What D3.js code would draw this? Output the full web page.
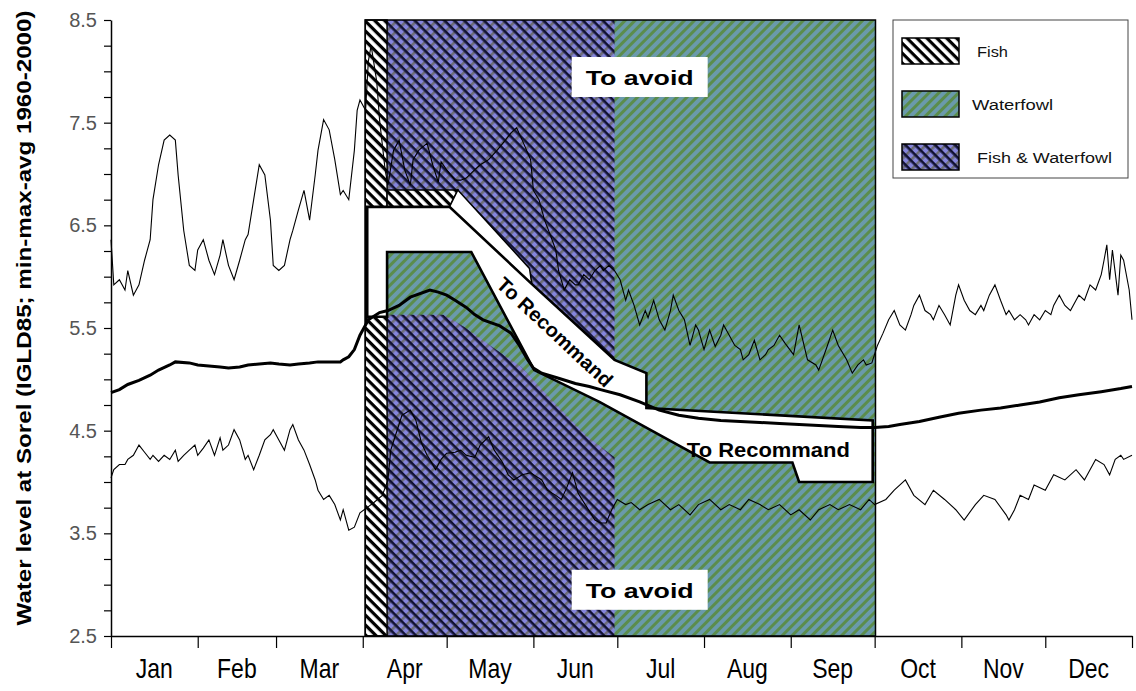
<!DOCTYPE html>
<html><head><meta charset="utf-8">
<script src="https://cdn.jsdelivr.net/npm/d3@7"></script>
<style>body{margin:0;background:#fff}svg{display:block}text{font-family:"Liberation Sans",Arial,sans-serif}</style>
</head><body><svg id="c" width="1136" height="691"></svg>
<script>
// ---------- data ----------
const months = ["Jan","Feb","Mar","Apr","May","Jun","Jul","Aug","Sep","Oct","Nov","Dec"];
const monthStarts = [0,31,59,90,120,151,181,212,243,273,304,334,365];
const yTickValues = [2.5,2.75,3,3.25,3.5,3.75,4,4.25,4.5,4.75,5,5.25,5.5,5.75,6,6.25,6.5,6.75,7,7.25,7.5,7.75,8,8.25,8.5];
const yTickLabels = [2.5,3.5,4.5,5.5,6.5,7.5,8.5];

// [day of year, level]
const maxLevel = [[0,6.36],[1,5.92],[3,5.97],[5,5.87],[6,6.06],[8,5.82],[10,5.92],[12,6.16],[14,6.36],[15,6.75],[17,7.09],[19,7.33],[21,7.38],[23,7.33],[24,6.99],[26,6.45],[28,6.11],[30,6.06],[31,6.26],[33,6.36],[35,6.16],[37,6.02],[39,6.21],[40,6.36],[42,6.11],[44,5.97],[46,6.16],[48,6.36],[49,6.41],[51,6.75],[53,7.09],[55,6.99],[57,6.55],[58,6.11],[60,6.06],[62,6.11],[64,6.36],[65,6.45],[67,6.65],[69,6.84],[71,6.55],[73,6.99],[74,7.23],[76,7.53],[78,7.43],[80,7.14],[82,6.80],[83,6.84],[85,6.75],[87,7.23],[88,7.62],[89,7.72],[91,7.62],[92,8.10],[93,8.25],[95,7.90],[96,7.53],[98,7.04],[99,6.89],[101,7.23],[103,7.33],[105,7.04],[107,6.89],[108,7.14],[110,7.23],[113,7.30],[115,7.09],[117,6.92],[118,7.12],[120,7.04],[123,6.94],[125,6.94],[127,6.96],[130,7.04],[132,7.09],[135,7.14],[138,7.23],[141,7.33],[143,7.40],[145,7.45],[147,7.33],[150,7.14],[151,6.84],[153,6.75],[155,6.55],[157,6.41],[159,6.26],[160,6.06],[162,5.87],[164,5.97],[166,5.92],[167,5.92],[169,6.02],[171,5.97],[173,6.06],[175,6.11],[176,6.06],[178,6.11],[180,6.06],[182,5.97],[184,5.77],[185,5.87],[187,5.72],[189,5.53],[191,5.67],[192,5.60],[194,5.77],[196,5.58],[198,5.48],[200,5.67],[201,5.82],[203,5.67],[205,5.58],[207,5.33],[209,5.53],[210,5.48],[212,5.29],[214,5.48],[216,5.32],[218,5.43],[219,5.53],[221,5.43],[223,5.33],[225,5.29],[226,5.19],[228,5.24],[230,5.38],[232,5.19],[234,5.24],[235,5.29],[237,5.33],[239,5.43],[241,5.35],[244,5.24],[246,5.53],[249,5.19],[252,5.14],[253,5.09],[256,5.32],[258,5.48],[260,5.33],[263,5.19],[265,5.06],[267,5.14],[269,5.19],[270,5.14],[272,5.16],[274,5.33],[276,5.45],[278,5.58],[280,5.67],[282,5.53],[284,5.48],[286,5.63],[287,5.72],[289,5.82],[291,5.67],[293,5.63],[294,5.58],[296,5.72],[298,5.63],[300,5.53],[302,5.82],[303,5.92],[305,5.77],[307,5.67],[309,5.63],[311,5.72],[312,5.67],[314,5.82],[316,5.92],[318,5.77],[320,5.63],[321,5.67],[323,5.58],[325,5.63],[327,5.58],[328,5.53],[330,5.63],[332,5.58],[334,5.67],[336,5.63],[337,5.72],[339,5.82],[341,5.72],[343,5.67],[345,5.77],[346,5.82],[348,5.77],[350,5.92],[352,5.87],[354,6.02],[355,6.16],[356,6.31],[357,5.97],[358,6.26],[360,5.82],[361,6.21],[362,6.16],[364,5.87],[365,5.58]];

const avgLevel = [[0,4.87],[3,4.90],[6,4.95],[10,4.99],[14,5.04],[17,5.09],[21,5.14],[23,5.17],[28,5.16],[31,5.14],[35,5.13],[39,5.12],[42,5.11],[46,5.12],[49,5.14],[53,5.15],[57,5.16],[60,5.15],[64,5.14],[67,5.15],[71,5.16],[74,5.17],[78,5.17],[82,5.17],[83,5.19],[85,5.22],[87,5.29],[89,5.43],[91,5.53],[92,5.58],[96,5.65],[99,5.67],[103,5.72],[107,5.80],[114,5.87],[117,5.85],[120,5.82],[123,5.77],[127,5.70],[130,5.63],[133,5.58],[139,5.52],[143,5.45],[146,5.33],[149,5.19],[151,5.11],[154,5.06],[160,5.01],[166,4.96],[171,4.93],[175,4.90],[182,4.85],[189,4.78],[196,4.70],[203,4.65],[210,4.62],[218,4.60],[225,4.59],[232,4.58],[239,4.57],[246,4.56],[253,4.55],[260,4.54],[268,4.53],[273,4.53],[278,4.54],[282,4.56],[289,4.59],[296,4.63],[303,4.67],[311,4.70],[318,4.72],[325,4.75],[332,4.78],[339,4.82],[346,4.85],[354,4.88],[361,4.91],[365,4.93]];

const minLevel = [[0,4.04],[1,4.12],[3,4.17],[5,4.17],[6,4.22],[8,4.26],[10,4.36],[12,4.29],[14,4.22],[15,4.26],[17,4.20],[19,4.26],[21,4.22],[23,4.31],[24,4.20],[26,4.26],[28,4.31],[30,4.36],[31,4.26],[33,4.33],[35,4.41],[37,4.26],[39,4.43],[40,4.31],[42,4.36],[44,4.51],[46,4.41],[48,4.22],[49,4.26],[51,4.12],[53,4.26],[55,4.41],[57,4.46],[58,4.51],[60,4.41],[62,4.31],[64,4.51],[65,4.56],[67,4.41],[69,4.31],[71,4.17],[73,4.02],[74,3.92],[76,3.83],[78,3.87],[80,3.78],[82,3.63],[83,3.73],[85,3.53],[87,3.56],[89,3.70],[92,3.76],[94,3.80],[97,3.87],[99,4.02],[100,4.31],[102,4.48],[104,4.65],[107,4.70],[109,4.60],[111,4.38],[113,4.26],[114,4.22],[116,4.12],[118,4.22],[120,4.28],[123,4.29],[125,4.31],[127,4.26],[130,4.24],[132,4.36],[135,4.44],[137,4.31],[140,4.19],[142,4.07],[144,4.02],[147,4.07],[150,4.09],[154,4.02],[156,3.92],[159,3.87],[161,3.83],[163,3.95],[165,4.09],[167,3.89],[170,3.76],[173,3.63],[175,3.60],[177,3.60],[179,3.73],[181,3.83],[184,3.78],[186,3.80],[189,3.73],[192,3.78],[196,3.83],[200,3.73],[203,3.78],[207,3.68],[210,3.78],[214,3.83],[218,3.73],[221,3.78],[225,3.73],[228,3.83],[232,3.78],[235,3.73],[239,3.78],[243,3.68],[246,3.73],[250,3.63],[253,3.73],[257,3.78],[260,3.73],[264,3.78],[268,3.73],[271,3.83],[273,3.78],[277,3.83],[280,3.92],[284,4.02],[287,3.87],[291,3.78],[294,3.92],[298,3.83],[302,3.73],[305,3.63],[309,3.78],[312,3.87],[316,3.83],[320,3.68],[321,3.63],[323,3.73],[325,3.87],[328,3.83],[330,3.97],[334,3.92],[337,4.07],[341,4.02],[345,4.12],[348,4.02],[352,4.22],[355,4.17],[357,4.07],[359,4.22],[361,4.26],[362,4.22],[365,4.26]];

// zone boundaries [day, level]
const fishBandDays = [90.9, 98.7];
const zoneDays = [98.7, 180, 273.3];
const purpleUpper = [[98.7,8.5],[180,8.5],[180,5.19],[150.6,5.90],[149.6,6.08],[124,6.844],[98.7,6.844]];
const purpleLower = [[98.7,5.63],[119,5.63],[126.3,5.51],[134.5,5.35],[146.7,5.12],[157.4,4.80],[170.3,4.44],[180,4.24],[180,2.5],[98.7,2.5]];
const fishStrip = [[98.7,6.844],[124,6.844],[121,6.68],[98.7,6.68]];
const gapStrip = [[124,6.844],[149.6,6.08],[150.6,5.90],[150,5.94],[121,6.68]];
const corridor = [[91.6,6.68],[121,6.68],[150,5.94],[180,5.19],[191.4,5.06],[191.4,4.72],[272.3,4.60],[272.3,4.0],[246,4.0],[243.6,4.19],[214,4.19],[174.6,4.78],[151.3,5.09],[128.8,6.24],[98.7,6.24],[98.7,5.61],[91.6,5.61]];

const legendItems = ["Fish","Waterfowl","Fish & Waterfowl"];

// ---------- drawing ----------
const svg = d3.select("#c");
const x = d3.scaleLinear().domain([0,365]).range([111,1132]);
const y = d3.scaleLinear().domain([2.5,8.5]).range([636,20]);

const defs = svg.append("defs");
function stripes(id, bg, specs){
  const p = defs.append("pattern").attr("id",id).attr("patternUnits","userSpaceOnUse")
    .attr("width",7).attr("height",7).attr("patternTransform","rotate(45)");
  p.append("rect").attr("width",7).attr("height",7).attr("fill",bg);
  specs.forEach(s=>{
    if(s.dir==="v") p.append("rect").attr("x",0).attr("y",0).attr("width",s.w).attr("height",7).attr("fill",s.c);
    else p.append("rect").attr("x",0).attr("y",0).attr("width",7).attr("height",s.w).attr("fill",s.c);
  });
}
stripes("pFish","#ffffff",[{dir:"h",w:3.2,c:"#000"}]);
stripes("pWater","#6a9aab",[{dir:"v",w:3,c:"#5b8d4c"}]);
stripes("pBoth","#8585dc",[{dir:"v",w:2.6,c:"#6c6c76"},{dir:"h",w:2.6,c:"#111133"}]);

const line = d3.line().x(d=>x(d[0])).y(d=>y(d[1]));
const poly = pts => line(pts)+"Z";

// waterfowl zone
svg.append("rect").attr("x",x(zoneDays[0])).attr("y",y(8.5))
  .attr("width",x(zoneDays[2])-x(zoneDays[0])).attr("height",y(2.5)-y(8.5)).attr("fill","url(#pWater)");
svg.append("path").attr("d",poly(purpleUpper)).attr("fill","url(#pBoth)");
svg.append("path").attr("d",poly(purpleLower)).attr("fill","url(#pBoth)");
// fish band
svg.append("rect").attr("x",x(fishBandDays[0])).attr("y",y(8.5))
  .attr("width",x(fishBandDays[1])-x(fishBandDays[0])).attr("height",y(2.5)-y(8.5))
  .attr("fill","url(#pFish)").attr("stroke","#000").attr("stroke-width",1.5);
svg.append("path").attr("d",poly(fishStrip)).attr("fill","url(#pFish)").attr("stroke","#000").attr("stroke-width",1.5);
svg.append("path").attr("d",poly(gapStrip)).attr("fill","#fff").attr("stroke","#000").attr("stroke-width",1.5);
// frame of zones
svg.append("rect").attr("x",x(fishBandDays[0])).attr("y",y(8.5))
  .attr("width",x(zoneDays[2])-x(fishBandDays[0])).attr("height",y(2.5)-y(8.5))
  .attr("fill","none").attr("stroke","#000").attr("stroke-width",1.5);
// corridor
svg.append("path").attr("d",poly(corridor)).attr("fill","#fff").attr("stroke","#000")
  .attr("stroke-width",2.6).attr("stroke-linejoin","miter");

// lines
svg.append("path").attr("d",line(maxLevel)).attr("fill","none").attr("stroke","#000").attr("stroke-width",1.1);
svg.append("path").attr("d",line(minLevel)).attr("fill","none").attr("stroke","#000").attr("stroke-width",1.1);
svg.append("path").attr("d",line(avgLevel)).attr("fill","none").attr("stroke","#000").attr("stroke-width",3);

// annotations
function box(cx, cy, w, h){
  svg.append("rect").attr("x",cx-w/2).attr("y",cy-h/2).attr("width",w).attr("height",h).attr("fill","#fff");
}
const avoidDay = 189, avoidTop = 7.945, avoidBot = 2.95;
box(x(avoidDay), y(avoidTop), 136, 40);
box(x(avoidDay), y(avoidBot), 136, 40);
function label(t, px, py, size, len, rot){
  const tx = svg.append("text").attr("transform",`translate(${px},${py}) rotate(${rot||0})`)
    .attr("text-anchor","middle").attr("dominant-baseline","central")
    .attr("font-weight","bold").attr("font-size",size).attr("fill","#000").text(t);
  if(len) tx.attr("textLength",len).attr("lengthAdjust","spacingAndGlyphs");
  return tx;
}
label("To avoid", x(avoidDay), y(avoidTop)+1, 21, 108);
label("To avoid", x(avoidDay), y(avoidBot)+1, 21, 108);
label("To Recommand", x(158.7), y(5.46), 20, 150, 43);
label("To Recommand", x(235), y(4.32), 21, 163);

// axes
const yAxis = d3.axisLeft(y).tickValues(yTickValues).tickSize(7).tickSizeOuter(0)
  .tickFormat(d=>yTickLabels.includes(d)?d3.format(".1f")(d):"");
const gy = svg.append("g").attr("transform","translate(111,0)").call(yAxis);
gy.select(".domain").attr("stroke","#000").attr("stroke-width",1.5);
gy.selectAll(".tick line").attr("stroke","#000").attr("stroke-width",1.2);
gy.selectAll(".tick text").attr("font-size",20).attr("fill","#555").attr("x",-14)
  .attr("font-family","Liberation Sans, Arial, sans-serif");

const xAxis = d3.axisBottom(x).tickValues(monthStarts).tickSize(12).tickSizeOuter(0).tickFormat("");
const gx = svg.append("g").attr("transform","translate(0,636)").call(xAxis);
gx.select(".domain").attr("stroke","#000").attr("stroke-width",1.5);
gx.selectAll(".tick line").attr("stroke","#000").attr("stroke-width",1.2);

months.forEach((m,i)=>{
  const t = svg.append("text").attr("x",x((monthStarts[i]+monthStarts[i+1])/2)).attr("y",678)
    .attr("text-anchor","middle").attr("font-size",28).attr("fill","#000").text(m);
  const w = t.node().getComputedTextLength();
  t.attr("textLength",w*0.82).attr("lengthAdjust","spacingAndGlyphs");
});

svg.append("text").attr("transform","translate(23,318) rotate(-90)")
  .attr("text-anchor","middle").attr("dominant-baseline","central")
  .attr("font-weight","bold").attr("font-size",21).attr("textLength",615).attr("lengthAdjust","spacingAndGlyphs")
  .text("Water level at Sorel (IGLD85; min-max-avg 1960-2000)");

// legend
const lg = svg.append("g");
lg.append("rect").attr("x",893).attr("y",20).attr("width",235).attr("height",158)
  .attr("fill","#fff").attr("stroke","#444").attr("stroke-width",1);
const fills = ["url(#pFish)","url(#pWater)","url(#pBoth)"];
const labLen = [31,81,135];
legendItems.forEach((t,i)=>{
  const cy = 51 + i*53;
  lg.append("rect").attr("x",902).attr("y",cy-13).attr("width",57).attr("height",26)
    .attr("fill",fills[i]).attr("stroke","#000").attr("stroke-width",1.5);
  lg.append("text").attr("x", i===1?972:977).attr("y",cy+1).attr("dominant-baseline","central")
    .attr("font-size",14).attr("fill","#111").attr("textLength",labLen[i]).attr("lengthAdjust","spacingAndGlyphs").text(t);
});
</script></body></html>
